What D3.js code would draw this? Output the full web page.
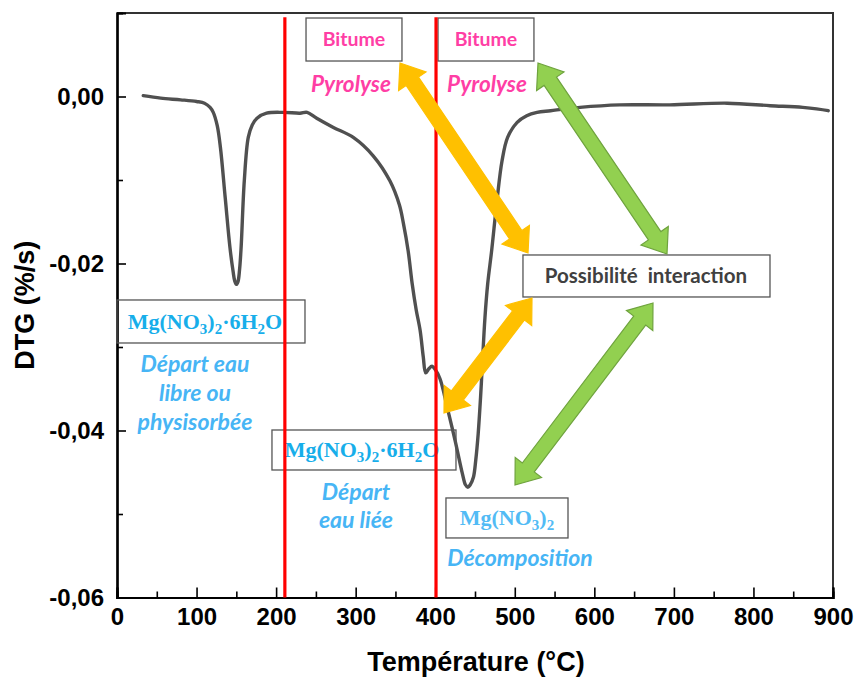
<!DOCTYPE html>
<html>
<head>
<meta charset="utf-8">
<script src="https://cdn.jsdelivr.net/npm/d3@7/dist/d3.min.js"></script>
<style>
  html, body { margin: 0; padding: 0; background: #fff; }
  svg { display: block; }
</style>
</head>
<body>
<svg id="chart" width="860" height="680"></svg>
<script>
// ---------------- DATA ----------------
const temperature = [33, 55, 80, 100, 110, 117, 121, 126, 130, 136, 142, 146, 148, 150, 152, 154, 156, 160, 165, 170, 176, 188, 209, 230, 239, 251, 272, 297, 322, 343, 355, 360, 366, 371, 376, 381, 385, 388, 392, 396, 400, 406, 415, 425, 434, 438, 441, 444, 448, 451, 454, 457, 459, 462.5, 466, 471, 477.6, 484, 491, 503, 515, 528, 545, 582, 632, 695, 767, 821, 862, 894];
const dtg = [0.0001, -0.0002, -0.0004, -0.0006, -0.0008, -0.0013, -0.0019, -0.0035, -0.0061, -0.0121, -0.0181, -0.0210, -0.0221, -0.0225, -0.0222, -0.0208, -0.0181, -0.0101, -0.0049, -0.0034, -0.0026, -0.0020, -0.0019, -0.0020, -0.0019, -0.0026, -0.0037, -0.0049, -0.0071, -0.0101, -0.0130, -0.0152, -0.0185, -0.0224, -0.0255, -0.0280, -0.0312, -0.0331, -0.0326, -0.0323, -0.0327, -0.0338, -0.0372, -0.0412, -0.0451, -0.0465, -0.0468, -0.0465, -0.0456, -0.0435, -0.0404, -0.0360, -0.0325, -0.0265, -0.0224, -0.0184, -0.0125, -0.0077, -0.0049, -0.0031, -0.0023, -0.0019, -0.0017, -0.0013, -0.0010, -0.0010, -0.0008, -0.0011, -0.0013, -0.0017];

const xTicks = [0, 100, 200, 300, 400, 500, 600, 700, 800, 900];
const xMinorTicks = [50, 150, 250, 350, 450, 550, 650, 750, 850];
const yTicks = [0, -0.02, -0.04, -0.06];
const yMinorTicks = [-0.01, -0.03, -0.05];
const xTitle = "Température (°C)";
const yTitle = "DTG (%/s)";

// vertical reference lines (°C)
const redLines = [211, 401];

// annotation boxes in data coordinates [T1, T2, v1, v2]
const boxes = [
  [237.6, 358.2, 0.0094, 0.00425],
  [403.5, 524.1, 0.0094, 0.00425],
  [510.3, 820.8, -0.01898, -0.02401],
  [0, 236.3, -0.02437, -0.02952],
  [194.8, 426.1, -0.03994, -0.04473],
  [413.5, 566.9, -0.04808, -0.05287]
];
// formula labels: [T, v, parts]
const formulas = [
  [110.6, -0.0270, [["Mg(NO",0],["3",1],[")",0],["2",1],["·6H",0],["2",1],["O",0]], "#17AEEA"],
  [308.0, -0.04234, [["Mg(NO",0],["3",1],[")",0],["2",1],["·6H",0],["2",1],["O",0]], "#17AEEA"],
  [490.2, -0.05048, [["Mg(NO",0],["3",1],[")",0],["2",1]], "#52BBF5"]
];
// plain labels: [T, v, text, style]
const labels = [
  [297.9, 0.00689, "Bitume", "pinkBold"],
  [463.8, 0.00689, "Bitume", "pinkBold"],
  [294.1, 0.00150, "Pyrolyse", "pinkItalic"],
  [465.1, 0.00150, "Pyrolyse", "pinkItalic"],
  [664.9, -0.0215, "Possibilité  interaction", "grayBold"],
  [98, -0.0320, "Départ eau", "blueItalic"],
  [98, -0.0355, "libre ou", "blueItalic"],
  [98, -0.0390, "physisorbée", "blueItalic"],
  [300.4, -0.04737, "Départ", "blueItalic"],
  [300.4, -0.05072, "eau liée", "blueItalic"],
  [506.5, -0.05527, "Décomposition", "blueItalic"]
];
// double-headed arrows: [T1, v1, T2, v2, colour]
const arrows = [
  [355.7, 0.00401, 516.6, -0.01874, "yellow"],
  [529.2, 0.00401, 691.3, -0.01886, "green"],
  [521.6, -0.02413, 411.0, -0.0379, "yellow"],
  [673.7, -0.02473, 500.3, -0.04653, "green"]
];

// ---------------- CHART ----------------
const W = 860, H = 680;
const margin = {top: 13, right: 27, bottom: 82.5, left: 117};
const svg = d3.select("#chart");

const x = d3.scaleLinear().domain([0, 900]).range([margin.left, W - margin.right]);
const y = d3.scaleLinear().domain([-0.06, 0.01]).range([H - margin.bottom, margin.top]);

const tickFont = "'Liberation Sans', Arial, sans-serif";
const calibri = "Lato, 'Open Sans', sans-serif";
const serif = "'Liberation Serif', 'Times New Roman', serif";

// frame (top & right)
svg.append("path")
  .attr("d", `M${x(0)},${y(0.01)}H${x(900)}V${y(-0.06)}`)
  .attr("fill", "none").attr("stroke", "#333").attr("stroke-width", 2);

// axes
const xAxis = svg.append("g").attr("transform", `translate(0,${y(-0.06)})`)
  .call(d3.axisBottom(x).tickValues(xTicks).tickSize(-10).tickPadding(10).tickFormat(d3.format("d")));
const xMinor = svg.append("g").attr("transform", `translate(0,${y(-0.06)})`)
  .call(d3.axisBottom(x).tickValues(xMinorTicks).tickSize(-6).tickFormat(""));
const yAxis = svg.append("g").attr("transform", `translate(${x(0)},0)`)
  .call(d3.axisLeft(y).tickValues(yTicks).tickSize(-9).tickPadding(13)
    .tickFormat(d => (Math.abs(d) < 1e-9 ? 0 : d).toFixed(2).replace(".", ",")));
const yMinor = svg.append("g").attr("transform", `translate(${x(0)},0)`)
  .call(d3.axisLeft(y).tickValues(yMinorTicks).tickSize(-6).tickFormat(""));

[xAxis, xMinor, yAxis, yMinor].forEach(g => {
  g.select(".domain").attr("stroke", "#000").attr("stroke-width", 2.2);
  g.selectAll(".tick line").attr("stroke", "#000").attr("stroke-width", 1.6);
  g.selectAll(".tick text").attr("fill", "#000")
    .style("font-family", tickFont).style("font-weight", "bold").style("font-size", "24px");
});

// axis titles
svg.append("text")
  .attr("x", (x(0) + x(900)) / 2 + 1).attr("y", 671)
  .attr("text-anchor", "middle")
  .style("font-family", tickFont).style("font-weight", "bold").style("font-size", "27px")
  .text(xTitle);
svg.append("text")
  .attr("transform", `translate(34,${(y(0.01) + y(-0.06)) / 2}) rotate(-90)`)
  .attr("text-anchor", "middle")
  .style("font-family", tickFont).style("font-weight", "bold").style("font-size", "27px")
  .text(yTitle);

// curve
const data = temperature.map((t, i) => ({t, v: dtg[i]}));
svg.append("path")
  .datum(data)
  .attr("fill", "none")
  .attr("stroke", "#505050")
  .attr("stroke-width", 3.4)
  .attr("stroke-linejoin", "round")
  .attr("stroke-linecap", "round")
  .attr("d", d3.line().x(d => x(d.t)).y(d => y(d.v)).curve(d3.curveCatmullRom.alpha(0.5)));

// boxes
svg.append("g").selectAll("rect").data(boxes).join("rect")
  .attr("x", d => x(d[0])).attr("y", d => y(d[2]))
  .attr("width", d => x(d[1]) - x(d[0])).attr("height", d => y(d[3]) - y(d[2]))
  .attr("fill", "none").attr("stroke", "#555").attr("stroke-width", 1.3);

// labels
const styles = {
  pinkBold:   {fill: "#FF3EA5", weight: "bold", style: "normal", size: 19.5, family: calibri},
  pinkItalic: {fill: "#FF3EA5", weight: "bold", style: "italic", size: 22.5, family: calibri},
  grayBold:   {fill: "#404040", weight: "bold", style: "normal", size: 20.5, family: calibri},
  blueItalic: {fill: "#47B5F5", weight: "bold", style: "italic", size: 23, family: calibri}
};
svg.append("g").selectAll("text").data(labels).join("text")
  .attr("x", d => x(d[0])).attr("y", d => y(d[1]))
  .attr("dy", "0.35em")
  .attr("text-anchor", "middle")
  .style("white-space", "pre")
  .attr("xml:space", "preserve")
  .each(function(d) {
    const s = styles[d[3]];
    d3.select(this).attr("fill", s.fill)
      .style("font-family", s.family).style("font-weight", s.weight)
      .style("font-style", s.style).style("font-size", s.size + "px");
  })
  .text(d => d[2]);

// formulas
formulas.forEach(f => {
  const t = svg.append("text")
    .attr("x", x(f[0])).attr("y", y(f[1])).attr("dy", "0.33em")
    .attr("text-anchor", "middle").attr("fill", f[3])
    .style("font-family", serif).style("font-weight", "bold").style("font-size", "22px");
  let prevSub = 0;
  f[2].forEach(p => {
    const sp = t.append("tspan").text(p[0]);
    if (p[1]) sp.style("font-size", "15px");
    const shift = (p[1] ? 5 : 0) - (prevSub ? 5 : 0);
    if (shift) sp.attr("dy", shift);
    prevSub = p[1];
  });
});

// red vertical lines
svg.append("g").selectAll("line").data(redLines).join("line")
  .attr("x1", d => x(d)).attr("x2", d => x(d))
  .attr("y1", y(0.0095)).attr("y2", y(-0.06))
  .attr("stroke", "#FF0000").attr("stroke-width", 3.2);

// arrows
const arrowColors = {
  yellow: {fill: "#FFC000", stroke: "#FFC000"},
  green:  {fill: "#92D050", stroke: "#6FA33E"}
};
function arrowPath(ax, ay, bx, by, sw, hw, hl) {
  const dx = bx - ax, dy = by - ay, L = Math.hypot(dx, dy);
  const ux = dx / L, uy = dy / L, nx = -uy, ny = ux;
  const P = (px, py, a, b) => [px + ux * a + nx * b, py + uy * a + ny * b];
  const pts = [
    [ax, ay],
    P(ax, ay, hl, hw), P(ax, ay, hl, sw),
    P(bx, by, -hl, sw), P(bx, by, -hl, hw),
    [bx, by],
    P(bx, by, -hl, -hw), P(bx, by, -hl, -sw),
    P(ax, ay, hl, -sw), P(ax, ay, hl, -hw)
  ];
  return "M" + pts.map(p => p[0].toFixed(1) + "," + p[1].toFixed(1)).join("L") + "Z";
}
svg.append("g").selectAll("path").data(arrows).join("path")
  .attr("d", d => arrowPath(x(d[0]), y(d[1]), x(d[2]), y(d[3]), 7.5, 16.5, 22))
  .attr("fill", d => arrowColors[d[4]].fill)
  .attr("stroke", d => arrowColors[d[4]].stroke)
  .attr("stroke-width", 1.2)
  .attr("stroke-linejoin", "miter");
</script>
</body>
</html>
